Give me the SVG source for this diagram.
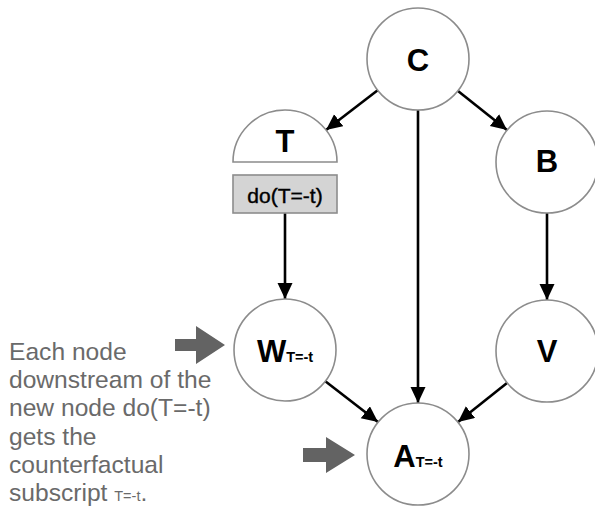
<svg xmlns="http://www.w3.org/2000/svg" width="595" height="510" viewBox="0 0 595 510">
  <style>
    .node { fill: #ffffff; stroke: #8c8c8c; stroke-width: 1.6; }
    .lbl { font-family: "Liberation Sans", Arial, sans-serif; font-weight: bold; font-size: 31px; fill: #000; text-anchor: middle; }
    .sub { font-size: 14.5px; }
    .edge { stroke: #000; stroke-width: 2.6; fill: none; marker-end: url(#head); }
    .note { font-family: "Liberation Sans", Arial, sans-serif; font-size: 24.6px; fill: #6a6a6a; }
    .pointer { fill: #636363; }
  </style>
  <defs>
    <marker id="head" markerUnits="userSpaceOnUse" markerWidth="17" markerHeight="16" refX="16" refY="7.5" orient="auto">
      <path d="M0,0 L16,7.5 L0,15 z" fill="#000"/>
    </marker>
  </defs>

  <rect width="595" height="510" fill="#ffffff"/>

  <!-- connectors -->
  <g id="edges">
    <line class="edge" x1="378" y1="90" x2="326" y2="130"/>
    <line class="edge" x1="458" y1="91" x2="507" y2="130"/>
    <line class="edge" x1="418" y1="110" x2="418" y2="403"/>
    <line class="edge" x1="285" y1="213" x2="285" y2="299"/>
    <line class="edge" x1="547" y1="213" x2="547" y2="300"/>
    <line class="edge" x1="325" y1="381" x2="378" y2="422"/>
    <line class="edge" x1="507" y1="383" x2="458" y2="422"/>
  </g>

  <g id="node-C">
    <circle class="node" cx="418" cy="59" r="51"/>
    <text class="lbl" x="418" y="71">C</text>
  </g>

  <g id="node-T">
    <path class="node" d="M233,162 A52,52 0 0 1 337,162 Z"/>
    <text class="lbl" x="285" y="152">T</text>
  </g>

  <g id="node-do">
    <rect x="233" y="175" width="104" height="38" fill="#d4d4d4" stroke="#8c8c8c" stroke-width="1.6"/>
    <text x="285" y="203" font-family="Liberation Sans, Arial, sans-serif" font-size="21" text-anchor="middle" fill="#000" stroke="#000" stroke-width="0.4">do(T=-t)</text>
  </g>

  <g id="node-B">
    <circle class="node" cx="547" cy="162" r="51"/>
    <text class="lbl" x="547" y="172">B</text>
  </g>

  <g id="node-W">
    <circle class="node" cx="285" cy="350" r="51"/>
    <text class="lbl" x="285" y="362"><tspan>W</tspan><tspan class="sub">T=-t</tspan></text>
  </g>

  <g id="node-V">
    <circle class="node" cx="547" cy="351" r="51"/>
    <text class="lbl" x="547" y="362">V</text>
  </g>

  <g id="node-A">
    <circle class="node" cx="418" cy="454" r="51"/>
    <text class="lbl" x="418" y="467"><tspan>A</tspan><tspan class="sub">T=-t</tspan></text>
  </g>

  <!-- pointer arrows -->
  <g id="pointers">
    <path class="pointer" d="M175,339 L196,339 L196,326 L225,345 L196,364 L196,351 L175,351 Z"/>
    <path class="pointer" d="M303,448 L326,448 L326,437 L355,455 L326,473 L326,462 L303,462 Z"/>
  </g>

  <!-- explanatory note -->
  <g id="note">
    <text class="note" x="9" y="360">Each node</text>
    <text class="note" x="9" y="388">downstream of the</text>
    <text class="note" x="9" y="416">new node do(T=-t)</text>
    <text class="note" x="9" y="445">gets the</text>
    <text class="note" x="9" y="473">counterfactual</text>
    <text class="note" x="9" y="501">subscript <tspan font-size="14.5">T=-t</tspan>.</text>
  </g>
</svg>
